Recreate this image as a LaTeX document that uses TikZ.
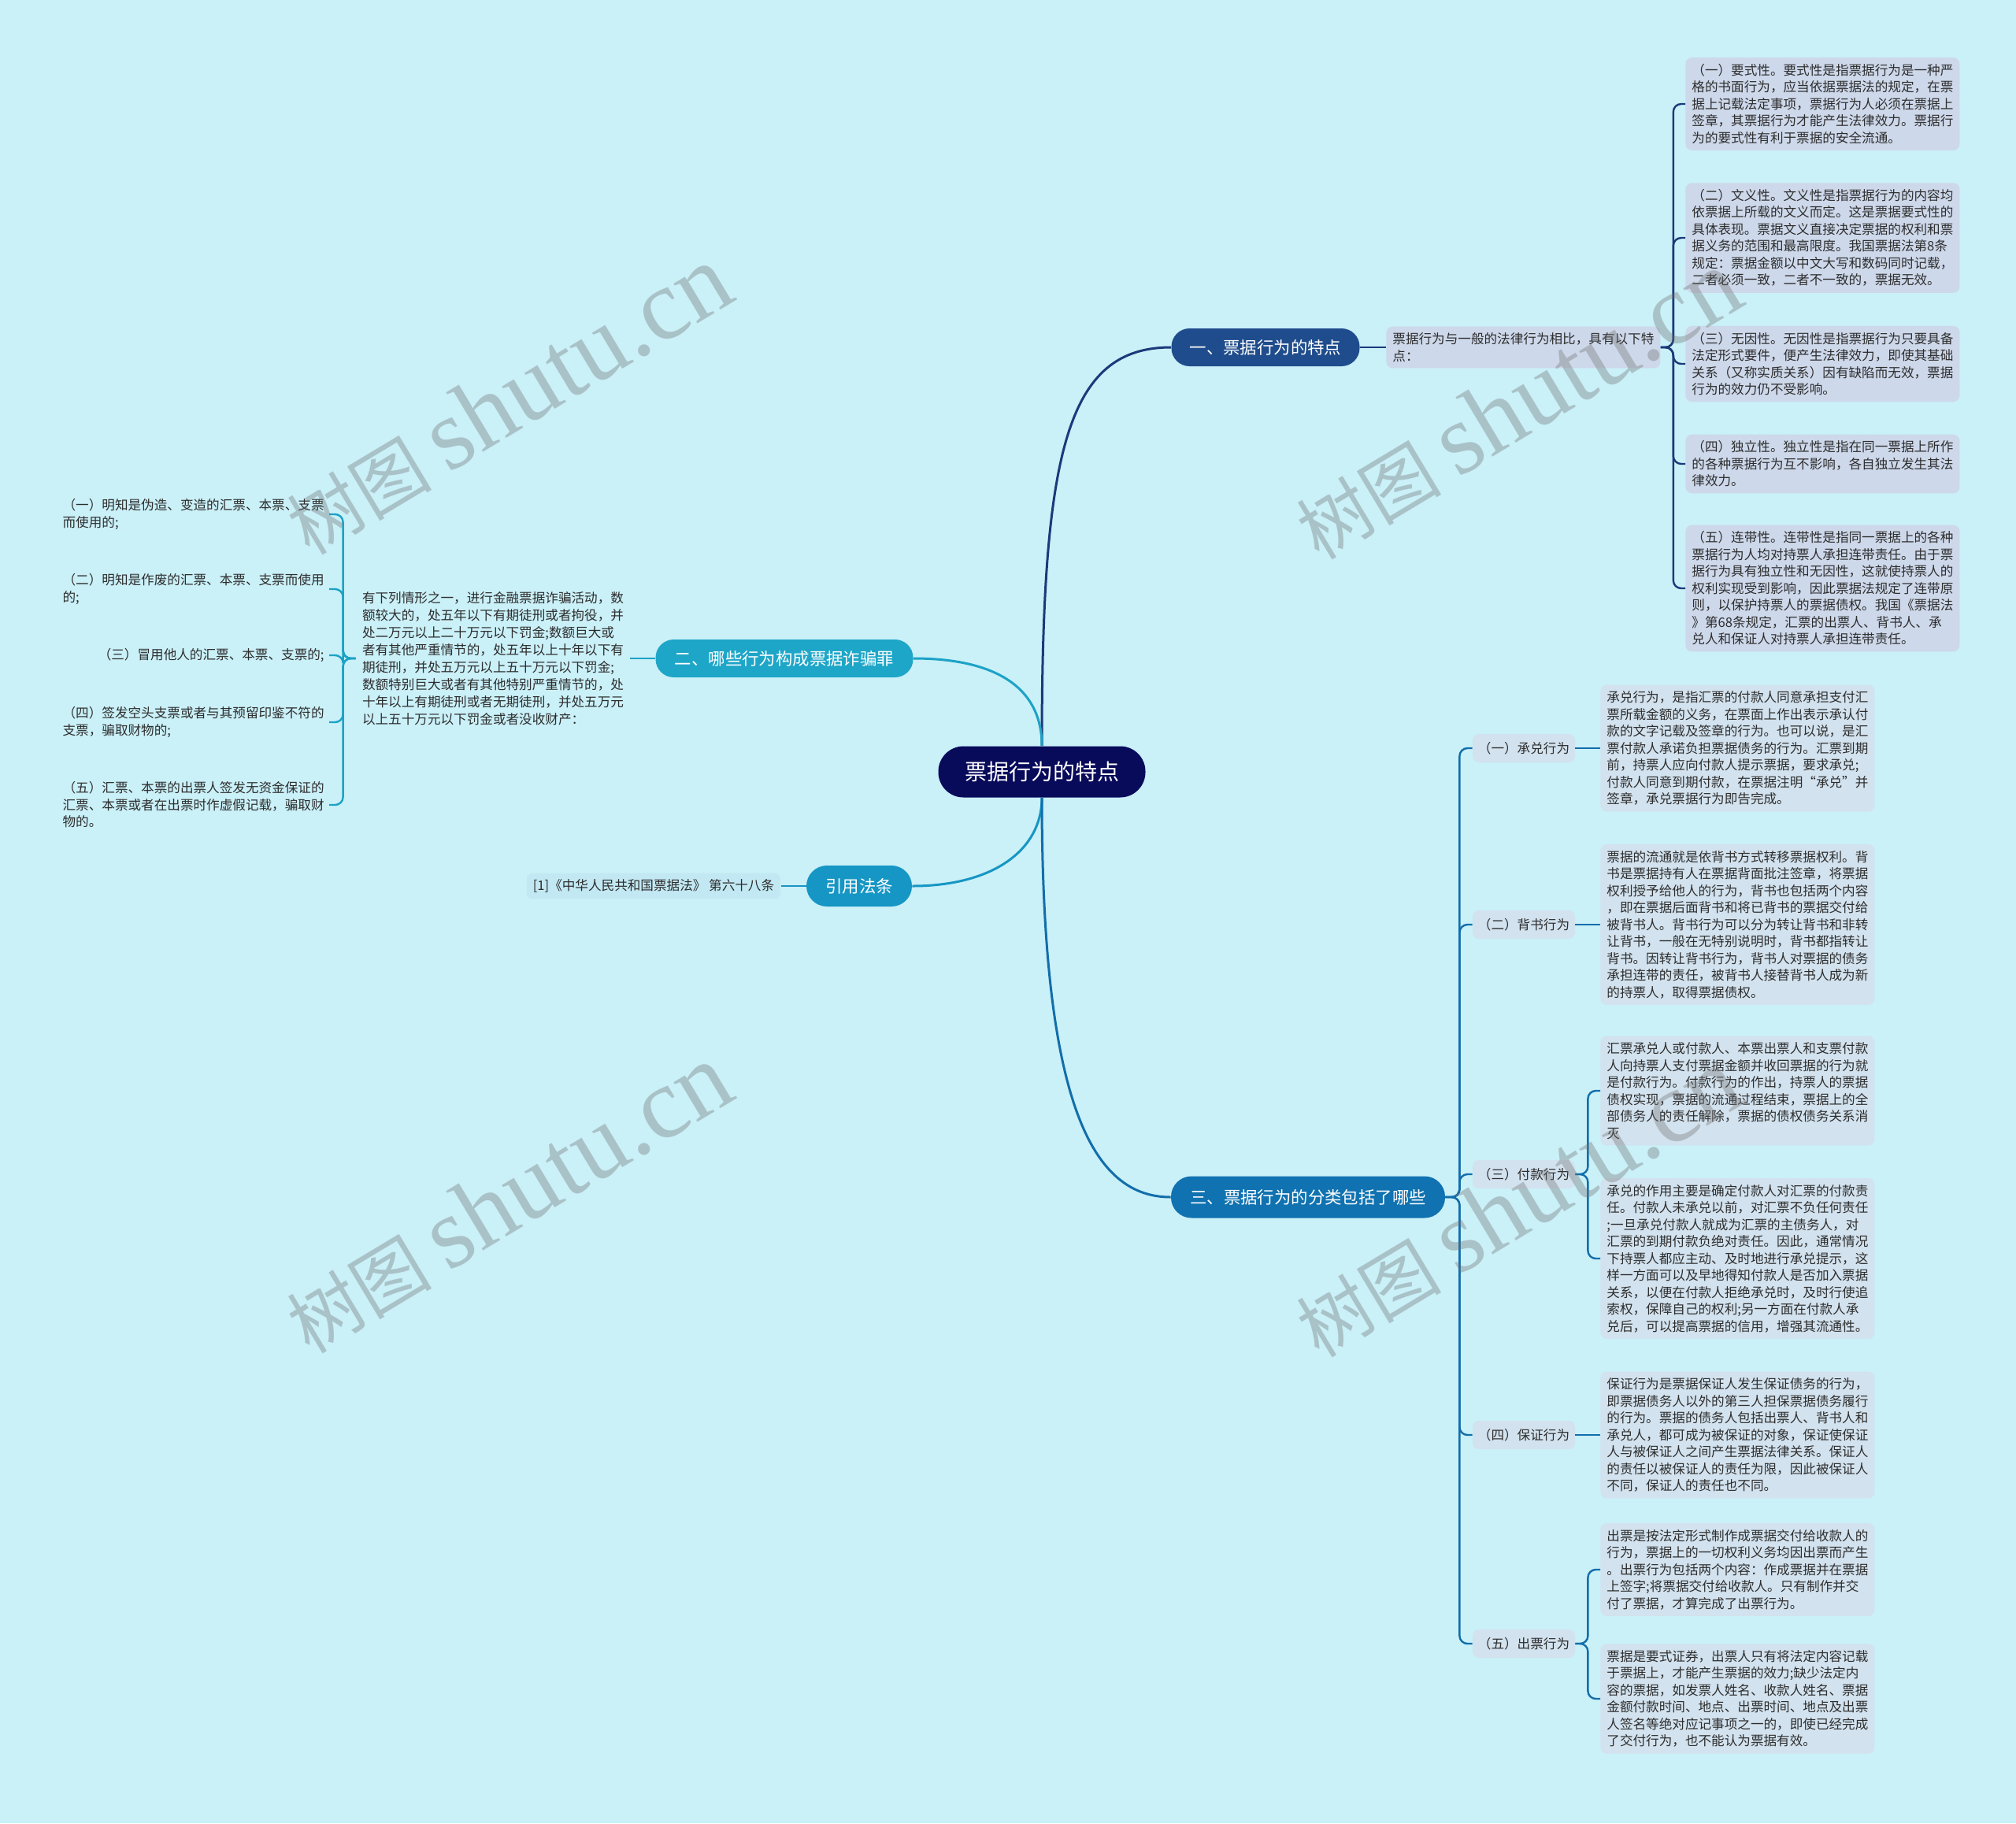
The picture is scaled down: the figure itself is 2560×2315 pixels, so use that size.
\documentclass[tikz,border=0pt]{standalone}
\usepackage{fontspec}
\setmainfont{Noto Sans CJK SC}
\newfontfamily\wmfont{Liberation Serif}
\usetikzlibrary{positioning}

\begin{document}
\begin{tikzpicture}[x=0.5pt,y=0.5pt,yscale=-1,xscale=1,
  every node/.style={font=\fontsize{8.3}{10.75}\selectfont, text={rgb,255:red,45;green,45;blue,45}},
  rootnode/.style={fill={rgb,255:red,8;green,10;blue,90}, text=white, rounded corners=16pt, font=\fontsize{14}{16}\selectfont, minimum width=131.5pt, minimum height=32.5pt, inner sep=0pt},
  topic/.style={text=white, rounded corners=11.5pt, font=\fontsize{10.7}{12}\selectfont, minimum height=24pt, inner sep=0pt},
  leaf/.style={rounded corners=4pt, align=left, text width=166pt, inner xsep=4pt, inner ysep=4pt},
  kind/.style={fill={rgb,255:red,210;green,226;blue,238}, rounded corners=4pt, minimum width=65pt, minimum height=18pt, inner sep=2pt},
  crimeitem/.style={align=left, inner xsep=3pt, inner ysep=2pt, anchor=east},
  conna/.style={draw={rgb,255:red,27;green,58;blue,122}, line width=1.2pt, rounded corners=5pt},
  connb/.style={draw={rgb,255:red,28;green,162;blue,198}, line width=1.2pt, rounded corners=5pt},
  connc/.style={draw={rgb,255:red,18;green,110;blue,170}, line width=1.2pt, rounded corners=5pt},
  connd/.style={draw={rgb,255:red,22;green,150;blue,196}, line width=1.2pt},
  wm/.style={text={rgb,255:red,110;green,110;blue,110}, opacity=0.35, rotate=31, font=\fontsize{46}{50}\selectfont, inner sep=0pt}
]
  % background
  \fill [fill={rgb,255:red,202;green,240;blue,248}] (0,0) rectangle (2560,2315);
  \useasboundingbox (0,0) rectangle (2560,2315);

  % Root
  \node [rootnode] (root) at (1323,980) {票据行为的特点};

  % Topic nodes
  \node [topic, fill={rgb,255:red,31;green,76;blue,140}, minimum width=119.5pt] (n1) at (1607,441) {一、票据行为的特点};
  \node [topic, fill={rgb,255:red,30;green,166;blue,200}, minimum width=163.5pt] (n2) at (996,836) {二、哪些行为构成票据诈骗罪};
  \node [topic, fill={rgb,255:red,22;green,150;blue,196}, minimum width=67pt, minimum height=26pt, rounded corners=13pt] (n4) at (1091,1125) {引用法条};
  \node [topic, fill={rgb,255:red,16;green,114;blue,176}, minimum width=174pt, minimum height=26.5pt, rounded corners=13pt] (n3) at (1661,1520) {三、票据行为的分类包括了哪些};

  % Branch curves
  \draw [conna, line width=1.5pt] (root) .. controls (1323,572) and (1355,441) .. (n1.west);
  \draw [connb, line width=1.5pt] (root) .. controls (1323,870) and (1260,836) .. (n2.east);
  \draw [connd, line width=1.5pt] (root) .. controls (1323,1080) and (1260,1125) .. (n4.east);
  \draw [connc, line width=1.5pt] (root) .. controls (1323,1404) and (1388,1520) .. (n3.west);

  %% Section one
  % Text Node
  \node [leaf, fill={rgb,255:red,205;green,216;blue,234}, anchor=west] (n1s) at (1760,441) {票据行为与一般的法律行为相比，具有以下特\\点：};
  \node [leaf, fill={rgb,255:red,205;green,216;blue,234}, anchor=west] (f1) at (2140,132) {（一）要式性。要式性是指票据行为是一种严\\格的书面行为，应当依据票据法的规定，在票\\据上记载法定事项，票据行为人必须在票据上\\签章，其票据行为才能产生法律效力。票据行\\为的要式性有利于票据的安全流通。};
  \node [leaf, fill={rgb,255:red,205;green,216;blue,234}, anchor=west] (f2) at (2140,302) {（二）文义性。文义性是指票据行为的内容均\\依票据上所载的文义而定。这是票据要式性的\\具体表现。票据文义直接决定票据的权利和票\\据义务的范围和最高限度。我国票据法第8条\\规定：票据金额以中文大写和数码同时记载，\\二者必须一致，二者不一致的，票据无效。};
  \node [leaf, fill={rgb,255:red,205;green,216;blue,234}, anchor=west] (f3) at (2140,462) {（三）无因性。无因性是指票据行为只要具备\\法定形式要件，便产生法律效力，即使其基础\\关系（又称实质关系）因有缺陷而无效，票据\\行为的效力仍不受影响。};
  \node [leaf, fill={rgb,255:red,205;green,216;blue,234}, anchor=west] (f4) at (2140,589) {（四）独立性。独立性是指在同一票据上所作\\的各种票据行为互不影响，各自独立发生其法\\律效力。};
  \node [leaf, fill={rgb,255:red,205;green,216;blue,234}, anchor=west] (f5) at (2140,747) {（五）连带性。连带性是指同一票据上的各种\\票据行为人均对持票人承担连带责任。由于票\\据行为具有独立性和无因性，这就使持票人的\\权利实现受到影响，因此票据法规定了连带原\\则，以保护持票人的票据债权。我国《票据法\\》第68条规定，汇票的出票人、背书人、承\\兑人和保证人对持票人承担连带责任。};

  \draw [conna] (n1.east) -- (n1s.west);
  \foreach \f in {f1,f2,f3,f4,f5}
    \draw [conna] (n1s.east) -- ++(16,0) |- (\f.west);

  %% Section two
  % Text Node
  \node [leaf, font=\fontsize{8.3}{11}\selectfont] (crime) at (626,836) {有下列情形之一，进行金融票据诈骗活动，数\\额较大的，处五年以下有期徒刑或者拘役，并\\处二万元以上二十万元以下罚金;数额巨大或\\者有其他严重情节的，处五年以上十年以下有\\期徒刑，并处五万元以上五十万元以下罚金;\\数额特别巨大或者有其他特别严重情节的，处\\十年以上有期徒刑或者无期徒刑，并处五万元\\以上五十万元以下罚金或者没收财产：};
  \node [crimeitem] (c1) at (418,653) {（一）明知是伪造、变造的汇票、本票、支票\\而使用的;};
  \node [crimeitem] (c2) at (418,748) {（二）明知是作废的汇票、本票、支票而使用\\的;};
  \node [crimeitem] (c3) at (418,832) {（三）冒用他人的汇票、本票、支票的;};
  \node [crimeitem] (c4) at (418,917) {（四）签发空头支票或者与其预留印鉴不符的\\支票，骗取财物的;};
  \node [crimeitem] (c5) at (418,1022) {（五）汇票、本票的出票人签发无资金保证的\\汇票、本票或者在出票时作虚假记载，骗取财\\物的。};

  \draw [connb] (n2.west) -- (crime.east);
  \foreach \c in {c1,c2,c4,c5}
    \draw [connb] (crime.west) -- ++(-16,0) |- (\c.east);
  \draw [connb] (crime.west) -- ++(-16,0) -- ++(0,-4) -- (c3.east);

  %% Citation
  \node [fill={rgb,255:red,194;green,232;blue,243}, rounded corners=4pt, inner xsep=4pt, inner ysep=4pt] (law) at (830,1125) {[1]《中华人民共和国票据法》 第六十八条};
  \draw [connd] (n4.west) -- (law.east);

  %% Section three
  \node [kind] (k1) at (1935,950) {（一）承兑行为};
  \node [kind] (k2) at (1935,1174) {（二）背书行为};
  \node [kind] (k3) at (1935,1491) {（三）付款行为};
  \node [kind] (k4) at (1935,1822) {（四）保证行为};
  \node [kind] (k5) at (1935,2087) {（五）出票行为};
  \foreach \k in {k1,k2,k3,k4,k5}
    \draw [connc] (n3.east) -- ++(18,0) |- (\k.west);

  % Text Node
  \node [leaf, fill={rgb,255:red,210;green,226;blue,238}, anchor=west] (k1a) at (2032,950) {承兑行为，是指汇票的付款人同意承担支付汇\\票所载金额的义务，在票面上作出表示承认付\\款的文字记载及签章的行为。也可以说，是汇\\票付款人承诺负担票据债务的行为。汇票到期\\前，持票人应向付款人提示票据，要求承兑;\\付款人同意到期付款，在票据注明“承兑”并\\签章，承兑票据行为即告完成。};
  \node [leaf, fill={rgb,255:red,210;green,226;blue,238}, anchor=west] (k2a) at (2032,1174) {票据的流通就是依背书方式转移票据权利。背\\书是票据持有人在票据背面批注签章，将票据\\权利授予给他人的行为，背书也包括两个内容\\，即在票据后面背书和将已背书的票据交付给\\被背书人。背书行为可以分为转让背书和非转\\让背书，一般在无特别说明时，背书都指转让\\背书。因转让背书行为，背书人对票据的债务\\承担连带的责任，被背书人接替背书人成为新\\的持票人，取得票据债权。};
  \node [leaf, fill={rgb,255:red,210;green,226;blue,238}, anchor=west] (k3a) at (2032,1385) {汇票承兑人或付款人、本票出票人和支票付款\\人向持票人支付票据金额并收回票据的行为就\\是付款行为。付款行为的作出，持票人的票据\\债权实现，票据的流通过程结束，票据上的全\\部债务人的责任解除，票据的债权债务关系消\\灭};
  \node [leaf, fill={rgb,255:red,210;green,226;blue,238}, anchor=west] (k3b) at (2032,1598) {承兑的作用主要是确定付款人对汇票的付款责\\任。付款人未承兑以前，对汇票不负任何责任\\;一旦承兑付款人就成为汇票的主债务人，对\\汇票的到期付款负绝对责任。因此，通常情况\\下持票人都应主动、及时地进行承兑提示，这\\样一方面可以及早地得知付款人是否加入票据\\关系，以便在付款人拒绝承兑时，及时行使追\\索权，保障自己的权利;另一方面在付款人承\\兑后，可以提高票据的信用，增强其流通性。};
  \node [leaf, fill={rgb,255:red,210;green,226;blue,238}, anchor=west] (k4a) at (2032,1822) {保证行为是票据保证人发生保证债务的行为，\\即票据债务人以外的第三人担保票据债务履行\\的行为。票据的债务人包括出票人、背书人和\\承兑人，都可成为被保证的对象，保证使保证\\人与被保证人之间产生票据法律关系。保证人\\的责任以被保证人的责任为限，因此被保证人\\不同，保证人的责任也不同。};
  \node [leaf, fill={rgb,255:red,210;green,226;blue,238}, anchor=west] (k5a) at (2032,1993) {出票是按法定形式制作成票据交付给收款人的\\行为，票据上的一切权利义务均因出票而产生\\。出票行为包括两个内容：作成票据并在票据\\上签字;将票据交付给收款人。只有制作并交\\付了票据，才算完成了出票行为。};
  \node [leaf, fill={rgb,255:red,210;green,226;blue,238}, anchor=west] (k5b) at (2032,2157) {票据是要式证券，出票人只有将法定内容记载\\于票据上，才能产生票据的效力;缺少法定内\\容的票据，如发票人姓名、收款人姓名、票据\\金额付款时间、地点、出票时间、地点及出票\\人签名等绝对应记事项之一的，即使已经完成\\了交付行为，也不能认为票据有效。};

  \draw [connc] (k1.east) -- (k1a.west);
  \draw [connc] (k2.east) -- (k2a.west);
  \draw [connc] (k3.east) -- ++(16,0) |- (k3a.west);
  \draw [connc] (k3.east) -- ++(16,0) |- (k3b.west);
  \draw [connc] (k4.east) -- (k4a.west);
  \draw [connc] (k5.east) -- ++(16,0) |- (k5a.west);
  \draw [connc] (k5.east) -- ++(16,0) |- (k5b.west);

  % Watermarks
  \node [wm] (wm1) at (645,508) {树图 {\wmfont\fontsize{64}{66}\selectfont shutu.cn}};
  \node [wm] (wm2) at (645,1522) {树图 {\wmfont\fontsize{64}{66}\selectfont shutu.cn}};
  \node [wm] (wm3) at (1927,514) {树图 {\wmfont\fontsize{64}{66}\selectfont shutu.cn}};
  \node [wm] (wm4) at (1927,1527) {树图 {\wmfont\fontsize{64}{66}\selectfont shutu.cn}};
\end{tikzpicture}
\end{document}
